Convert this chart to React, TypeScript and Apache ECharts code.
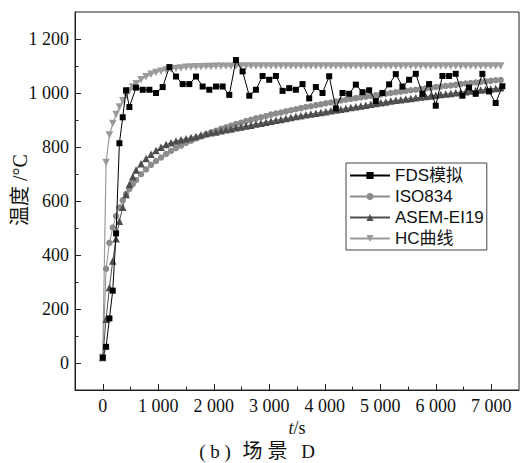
import React, { useEffect, useRef } from "react";
import * as echarts from "echarts";

// time grid (s) for the reference curves
const stdTimes = [0,60,120,180,240,300,360,420,480,540,600,690,780,870,960,1050,1140,1230,1320,1410,1500,1590,1680,1770,1860,1950,2040,2130,2220,2310,2400,2490,2580,2670,2760,2850,2940,3030,3120,3210,3300,3390,3480,3570,3660,3750,3840,3930,4020,4110,4200,4290,4380,4470,4560,4650,4740,4830,4920,5010,5100,5190,5280,5370,5460,5550,5640,5730,5820,5910,6000,6090,6180,6270,6360,6450,6540,6630,6720,6810,6900,6990,7080,7170];

const isoValues = [20,349,445,502,544,576,603,626,645,663,678,699,717,734,748,761,774,785,796,805,815,823,832,839,847,854,860,867,873,879,885,890,896,901,906,910,915,920,924,928,932,936,940,944,948,951,955,958,962,965,968,972,975,978,981,984,986,989,992,995,997,1000,1003,1005,1008,1010,1012,1015,1017,1019,1022,1024,1026,1028,1030,1033,1035,1037,1039,1041,1043,1045,1047,1048];

const asemValues = [20,162,280,378,460,525,577,624,661,690,715,738,757,773,787,799,809,816,822,827,831,835,839,844,849,853,856,860,864,867,871,874,878,881,885,888,892,895,899,902,906,909,913,916,919,922,925,928,931,934,937,940,943,946,949,952,955,958,961,964,967,970,973,975,978,980,982,985,987,989,992,994,996,998,1001,1003,1005,1007,1009,1011,1013,1015,1017,1019];

const hcValues = [20,743,844,887,920,948,971,991,1008,1022,1034,1049,1060,1069,1076,1081,1085,1089,1091,1093,1095,1096,1097,1097,1098,1098,1099,1099,1099,1099,1100,1100,1100,1100,1100,1100,1100,1100,1100,1100,1100,1100,1100,1100,1100,1100,1100,1100,1100,1100,1100,1100,1100,1100,1100,1100,1100,1100,1100,1100,1100,1100,1100,1100,1100,1100,1100,1100,1100,1100,1100,1100,1100,1100,1100,1100,1100,1100,1100,1100,1100,1100,1100,1100];

const fdsTimes = [0,60,120,180,240,300,360,420,480,600,720,840,960,1080,1200,1320,1440,1560,1680,1800,1920,2040,2160,2280,2400,2520,2640,2760,2880,3000,3120,3240,3360,3480,3600,3720,3840,3960,4080,4200,4320,4440,4560,4680,4800,4920,5040,5160,5280,5400,5520,5640,5760,5880,6000,6120,6240,6360,6480,6600,6720,6840,6960,7080,7200];
const fdsValues = [20,60,165,268,480,814,910,1010,948,1020,1012,1012,1000,1022,1096,1061,1033,1033,1061,1024,1012,1024,1024,993,1122,1080,990,1012,1063,1049,1063,1008,1018,1012,1033,980,1022,1000,1062,943,1000,997,1031,1003,1010,970,1000,1032,1070,1024,1049,1071,997,1033,953,1063,1063,1071,990,1020,997,1071,1006,963,1025];

const seriesNames = ["FDS模拟", "ISO834", "ASEM-EI19", "HC曲线"];

const xMajor = [0,1000,2000,3000,4000,5000,6000,7000];
const xMinor = [500,1500,2500,3500,4500,5500,6500];
const yMajor = [0,200,400,600,800,1000,1200];
const yMinor = [100,300,500,700,900,1100];

const serif = "'Liberation Serif','Times New Roman','Noto Sans CJK SC',serif";
const sans = "'Liberation Sans',Arial,'Noto Sans CJK SC',sans-serif";

const fmt = (v: number) => {
  if (Math.abs(v) >= 1000) {
    const th = Math.floor(v / 1000);
    const rest = String(v % 1000).padStart(3, "0");
    return th + " " + rest;
  }
  return String(v);
};

const pairs = (xs: number[], ys: number[]) => xs.map((x, i) => [x, ys[i]]);

export default function App() {
  const ref = useRef<HTMLDivElement>(null);
  useEffect(() => {
    const chart = echarts.init(ref.current!, null, { renderer: "svg" });
    const axisColor = "#222";
    const lbl = { fontFamily: serif, fontSize: 18, color: "#111" };
    chart.setOption({
      animation: false,
      backgroundColor: "#fff",
      grid: { left: 75, right: 3, top: 12, bottom: 73, show: true, borderColor: axisColor, borderWidth: 1 },
      legend: {
        data: seriesNames,
        orient: "vertical",
        left: 346,
        top: 163,
        padding: [4, 3, 3, 3],
        itemGap: 4,
        itemWidth: 40,
        itemHeight: 9,
        borderColor: "#444",
        borderWidth: 1,
        backgroundColor: "#fff",
        textStyle: { fontFamily: sans, fontSize: 17, color: "#111", padding: [0, 0, 0, 0] },
      },
      xAxis: [
        {
          type: "value", min: -500, max: 7500, position: "bottom",
          axisLine: { show: true, onZero: false, lineStyle: { color: axisColor } },
          axisTick: { show: true, inside: true, length: 6, customValues: xMajor, lineStyle: { color: axisColor } },
          axisLabel: { customValues: xMajor, formatter: fmt, margin: 7, ...lbl },
          splitLine: { show: false },
        },
        {
          type: "value", min: -500, max: 7500, position: "bottom",
          axisLine: { show: false, onZero: false },
          axisTick: { show: true, inside: true, length: 3.5, customValues: xMinor, lineStyle: { color: axisColor } },
          axisLabel: { show: false },
          splitLine: { show: false },
        },
      ],
      yAxis: [
        {
          type: "value", min: -100, max: 1300, position: "left",
          axisLine: { show: true, onZero: false, lineStyle: { color: axisColor } },
          axisTick: { show: true, inside: true, length: 6, customValues: yMajor, lineStyle: { color: axisColor } },
          axisLabel: { customValues: yMajor, formatter: fmt, margin: 6, ...lbl },
          splitLine: { show: false },
        },
        {
          type: "value", min: -100, max: 1300, position: "left",
          axisLine: { show: false, onZero: false },
          axisTick: { show: true, inside: true, length: 3.5, customValues: yMinor, lineStyle: { color: axisColor } },
          axisLabel: { show: false },
          splitLine: { show: false },
        },
      ],
      graphic: [
        {
          type: "text", x: 20, y: 190, rotation: Math.PI / 2,
          style: { text: "温度 /°C", align: "center", verticalAlign: "middle", fontFamily: serif, fontSize: 20, fill: "#111" },
        },
        {
          type: "text", x: 297, y: 428,
          style: {
            text: "{i|t}/s", align: "center", verticalAlign: "middle",
            fontFamily: serif, fontSize: 18, fill: "#111",
            rich: { i: { fontStyle: "italic", fontFamily: serif, fontSize: 18 } },
          },
        },
        {
          type: "text", x: 215, y: 451,
          style: { text: "( b )", align: "center", verticalAlign: "middle", fontFamily: serif, fontSize: 19, fill: "#111" },
        },
        {
          type: "text", x: 265, y: 451,
          style: { text: "场 景", align: "center", verticalAlign: "middle", fontFamily: serif, fontSize: 20, fill: "#111" },
        },
        {
          type: "text", x: 308, y: 451,
          style: { text: "D", align: "center", verticalAlign: "middle", fontFamily: serif, fontSize: 19, fill: "#111" },
        },
      ],
      series: [
        {
          name: seriesNames[0], type: "line", data: pairs(fdsTimes, fdsValues),
          symbol: "rect", symbolSize: 6, z: 5,
          lineStyle: { color: "#000", width: 1 }, itemStyle: { color: "#000" },
        },
        {
          name: seriesNames[1], type: "line", data: pairs(stdTimes, isoValues),
          symbol: "circle", symbolSize: 6.5,
          lineStyle: { color: "#8c8c8c", width: 1 }, itemStyle: { color: "#8c8c8c" },
        },
        {
          name: seriesNames[2], type: "line", data: pairs(stdTimes, asemValues),
          symbol: "triangle", symbolSize: 7.5,
          lineStyle: { color: "#4d4d4d", width: 1 }, itemStyle: { color: "#4d4d4d" },
        },
        {
          name: seriesNames[3], type: "line", data: pairs(stdTimes, hcValues),
          symbol: "triangle", symbolRotate: 180, symbolSize: 7.5,
          lineStyle: { color: "#9a9a9a", width: 1.2 }, itemStyle: { color: "#9a9a9a" },
        },
      ],
    });
    return () => chart.dispose();
  }, []);
  return <div ref={ref} style={{ position: "fixed", left: 0, top: 0, width: 522, height: 463 }} />;
}
